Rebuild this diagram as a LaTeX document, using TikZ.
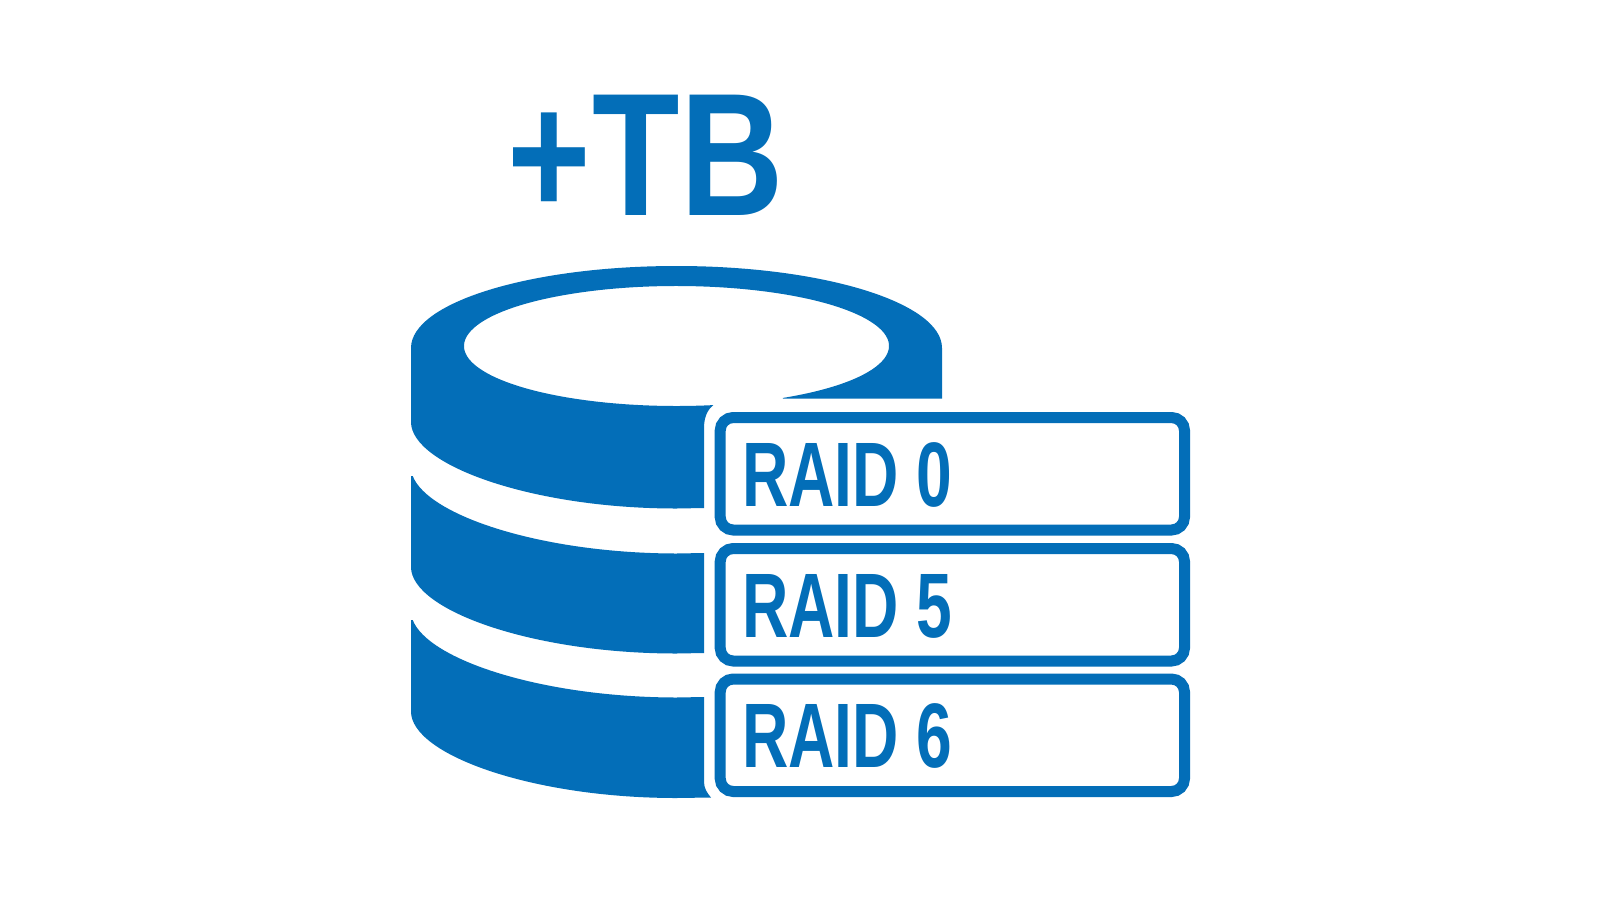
\documentclass[tikz,border=0pt]{standalone}
\usepackage{fontspec}
\setmainfont{Liberation Sans}
\definecolor{raidblue}{HTML}{036EB8}
\newcommand{\raidtext}[1]{\scalebox{0.70}[1]{\fontsize{91.6pt}{91.6pt}\selectfont\bfseries #1}}
\tikzset{
  disk/.style={fill=raidblue,draw=none},
  raidbox/.style={draw=raidblue,line width=11pt,rounded corners=13pt,minimum width=464.3pt,minimum height=112.5pt,inner sep=0pt,anchor=center},
  raidlabel/.style={text=raidblue,inner sep=0pt,anchor=base west},
  bigtext/.style={text=raidblue,inner sep=0pt,anchor=base west}
}
\begin{document}
\begin{tikzpicture}[x=1pt,y=1pt,yscale=-1]
\useasboundingbox (0,0) rectangle (1600,900);
\fill[white] (0,0) rectangle (1600,900);
% top disk
\path[disk] (411,348) arc[start angle=180,end angle=360,x radius=265.5pt,y radius=82pt]
  -- (942,398.5) -- (782.75,398.5)
  -- (782.75,397.96) arc[start angle=60,end angle=-280,x radius=212.5pt,y radius=60pt]
  .. controls (707,410) and (704,418) .. (704,428)
  -- (704,508) -- (676.5,508.5) .. controls (532,508.5) and (411,465) .. (411,422)
  -- cycle;
% middle disk
\path[disk] (411,476) -- (412.7,476) .. controls (428.1,515.8) and (542.1,553.3) .. (676.5,553.5) -- (704,553)
  -- (704,653) -- (676.5,653.5) .. controls (532,653.5) and (411,610) .. (411,567)
  -- cycle;
% bottom disk
\path[disk] (411,620) -- (412.7,620) .. controls (428.1,659.8) and (542.1,697.3) .. (676.5,697.5) -- (704,697)
  -- (704,782) .. controls (704,788) and (707,793) .. (711,797.5)
  -- (676.5,798) .. controls (532,798) and (411,754.5) .. (411,711.5)
  -- cycle;
% boxes
\node[raidbox] (box0) at (952.35,473.75) {};
\node[raidbox] (box5) at (952.35,604.75) {};
\node[raidbox] (box6) at (952.35,735.25) {};
% labels
\node[raidlabel] (raid0) at (742,506) {\raidtext{RAID 0}};
\node[raidlabel] (raid5) at (742,637) {\raidtext{RAID 5}};
\node[raidlabel] (raid6) at (742,767.5) {\raidtext{RAID 6}};
\node[bigtext] (plustb) at (507,215.7) {\scalebox{0.818}[1]{\fontsize{175pt}{175pt}\selectfont\bfseries +\kern2.5pt TB}};
\end{tikzpicture}
\end{document}
